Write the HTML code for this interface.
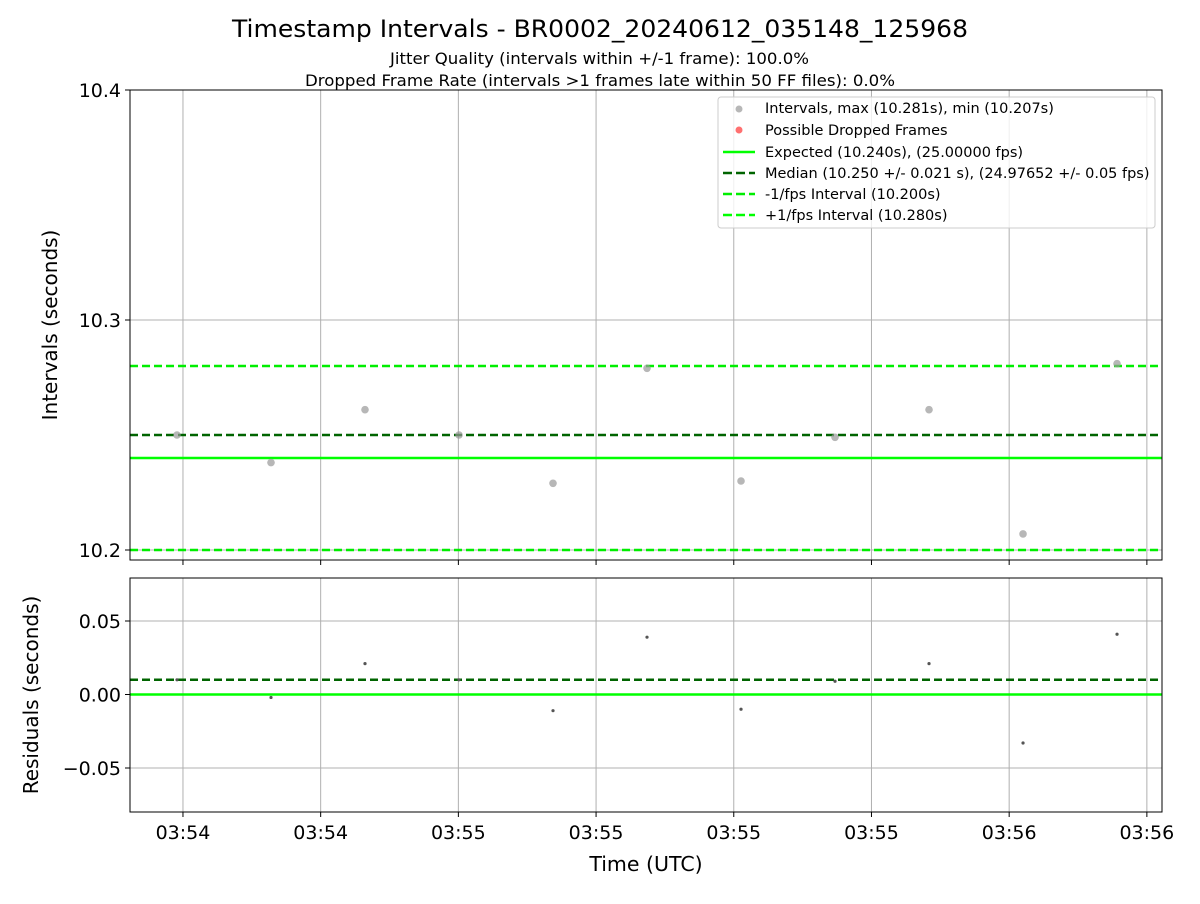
<!DOCTYPE html>
<html><head><meta charset="utf-8"><style>
body{margin:0;background:#fff;font-family:"DejaVu Sans","Liberation Sans",sans-serif}
svg text{font-family:"DejaVu Sans","Liberation Sans",sans-serif}
</style></head><body>
<svg id="chart" width="1200" height="900" xmlns="http://www.w3.org/2000/svg">
<text x="232" y="37" textLength="736" lengthAdjust="spacingAndGlyphs" font-size="24">Timestamp Intervals - BR0002_20240612_035148_125968</text>
<text x="390" y="64" textLength="419" lengthAdjust="spacingAndGlyphs" font-size="16">Jitter Quality (intervals within +/-1 frame): 100.0%</text>
<text x="305" y="86" textLength="590" lengthAdjust="spacingAndGlyphs" font-size="16">Dropped Frame Rate (intervals &gt;1 frames late within 50 FF files): 0.0%</text>
<g id="topPanel"></g>
<g id="botPanel"></g>
<text x="646" y="871" text-anchor="middle" font-size="20.5">Time (UTC)</text>
<text transform="translate(57,325) rotate(-90)" text-anchor="middle" font-size="20">Intervals (seconds)</text>
<text transform="translate(38,695) rotate(-90)" text-anchor="middle" font-size="20">Residuals (seconds)</text>
<g id="legendG">
<rect x="718" y="97" width="437" height="131" rx="3" fill="#fff" fill-opacity="0.8" stroke="#ccc"/>
<circle cx="739" cy="109" r="3.5" fill="#999" fill-opacity="0.7"/>
<text x="765" y="113" font-size="14.5">Intervals, max (10.281s), min (10.207s)</text>
<circle cx="739" cy="130" r="3.5" fill="#f33" fill-opacity="0.7"/>
<text x="765" y="135" font-size="14.5">Possible Dropped Frames</text>
<line x1="723" y1="152" x2="755" y2="152" stroke="#00ff00" stroke-width="2.5"/>
<text x="765" y="157" font-size="14.5">Expected (10.240s), (25.00000 fps)</text>
<line x1="723" y1="173" x2="755" y2="173" stroke="#006400" stroke-width="2.5" stroke-dasharray="9,4"/>
<text x="765" y="178" font-size="14.5">Median (10.250 +/- 0.021 s), (24.97652 +/- 0.05 fps)</text>
<line x1="723" y1="194" x2="755" y2="194" stroke="#00ee00" stroke-width="2.5" stroke-dasharray="9,4"/>
<text x="765" y="199" font-size="14.5">-1/fps Interval (10.200s)</text>
<line x1="723" y1="215" x2="755" y2="215" stroke="#00ff00" stroke-width="2.5" stroke-dasharray="9,4"/>
<text x="765" y="220" font-size="14.5">+1/fps Interval (10.280s)</text>
</g>
</svg>
<script>
const times=[0,10.24,20.48,30.72,40.96,51.2,61.44,71.68,81.92,92.16,102.4];
const intervals=[10.250,10.238,10.261,10.250,10.229,10.279,10.230,10.249,10.261,10.207,10.281];
const expected=10.240, median=10.250, lowerLim=10.200, upperLim=10.280;
const xTickTimes=[0.65,15.65,30.65,45.65,60.65,75.65,90.65,105.65];
const xTickLabels=["03:54","03:54","03:55","03:55","03:55","03:55","03:56","03:56"];
const yTopTicks=[10.2,10.3,10.4];
const yTopLabels=["10.2","10.3","10.4"];
const yBotTicks=[-0.05,0,0.05];
const yBotLabels=["\u22120.05","0.00","0.05"];
(function(){
const NS="http://www.w3.org/2000/svg";
const L=130,R=1162;
const xs=t=>177+t*9.18;
const yT=v=>550-(v-10.2)*2300;
const yB=v=>694.5-v*1470;
function mk(p,tag,a){const e=document.createElementNS(NS,tag);for(const k in a)e.setAttribute(k,a[k]);p.appendChild(e);return e;}
function panel(g,y0,y1,ticks,labels,yf,isBottom){
  ticks.forEach((v,i)=>{const l=mk(g,'line',{x1:L,x2:R,y1:yf(v),y2:yf(v),stroke:'#b0b0b0','stroke-width':1});
    
    
    mk(g,'line',{x1:L-5,x2:L,y1:yf(v),y2:yf(v),stroke:'#000'});
    const t=mk(g,'text',{x:L-9,y:yf(v)+7,'text-anchor':'end','font-size':19});t.textContent=labels[i];
    
    });
  xTickTimes.forEach((tt,i)=>{const l=mk(g,'line',{x1:xs(tt),x2:xs(tt),y1:y0,y2:y1,stroke:'#b0b0b0'});
    
    
    mk(g,'line',{x1:xs(tt),x2:xs(tt),y1:y1,y2:y1+5,stroke:'#000'});
    if(isBottom){const t=mk(g,'text',{x:xs(tt),y:y1+27,'text-anchor':'middle','font-size':19});t.textContent=xTickLabels[i];
      
      }});
}
const gT=document.getElementById('topPanel'),gB=document.getElementById('botPanel');
panel(gT,90,560,yTopTicks,yTopLabels,yT,false);
[[upperLim,'#00ee00','8,4','plus-fps-line'],[lowerLim,'#00ee00','8,4','minus-fps-line'],[median,'#006400','8,4','median-line'],[expected,'#00ff00','','expected-line']].forEach(d=>{
  const l=mk(gT,'line',{x1:L,x2:R,y1:yT(d[0]),y2:yT(d[0]),stroke:d[1],'stroke-width':2.5,'stroke-dasharray':d[2]});
  
  });
times.forEach((t,i)=>{const c=mk(gT,'circle',{cx:xs(t),cy:yT(intervals[i]),r:3.8,fill:'#999','fill-opacity':0.7});
  
  });
mk(gT,'rect',{x:L,y:90,width:R-L,height:470,fill:'none',stroke:'#000'});
panel(gB,578,812,yBotTicks,yBotLabels,yB,true);
[[median-expected,'#006400','8,4','residual-median-line'],[0,'#00ff00','','residual-zero-line']].forEach(d=>{
  const l=mk(gB,'line',{x1:L,x2:R,y1:yB(d[0]),y2:yB(d[0]),stroke:d[1],'stroke-width':2.5,'stroke-dasharray':d[2]});
  
  });
times.forEach((t,i)=>{const c=mk(gB,'circle',{cx:xs(t),cy:yB(intervals[i]-expected),r:1.6,fill:'#555'});
  
  });
mk(gB,'rect',{x:L,y:578,width:R-L,height:234,fill:'none',stroke:'#000'});
document.getElementById('chart').appendChild(document.getElementById('legendG'));
})();
</script>
</body></html>
